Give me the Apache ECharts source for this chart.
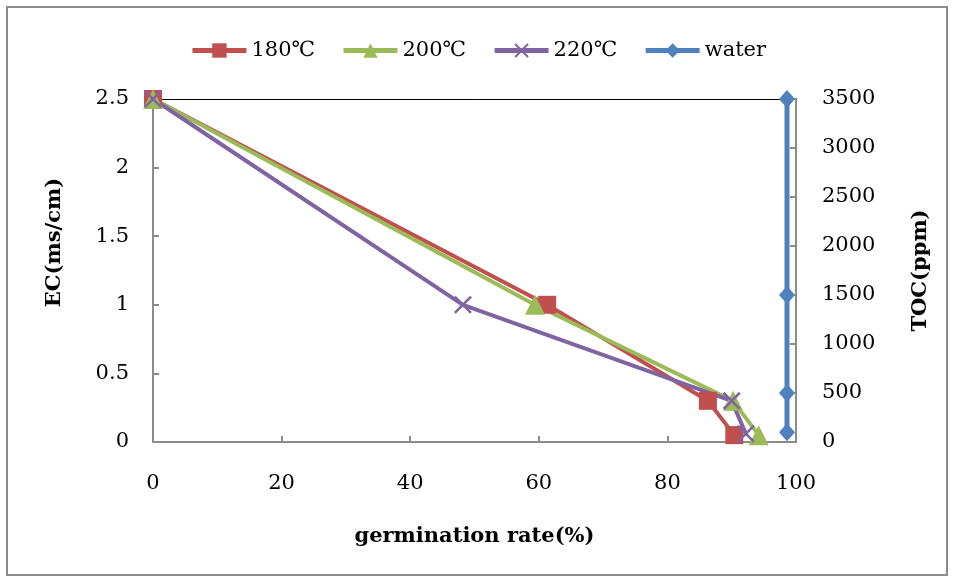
<!DOCTYPE html>
<html>
<head>
<meta charset="utf-8">
<script src="https://cdn.jsdelivr.net/npm/echarts@6/dist/echarts.min.js"></script>
<style>
html, body { margin: 0; padding: 0; background: #fff; }
#frame { position: absolute; left: 6px; top: 6px; width: 942px; height: 570px; border: 2px solid #8c8c8c; box-sizing: border-box; }
#chart { width: 956px; height: 583px; }
</style>
</head>
<body>
<div id="frame"></div>
<div id="chart"></div>
<script>
// germination rate (%) vs EC (ms/cm)
var s180 = [[0, 2.5], [61.3, 1.0], [86.3, 0.3], [90.4, 0.05]];
var s200 = [[0, 2.5], [59.4, 1.0], [90.2, 0.3], [94.2, 0.05]];
var s220 = [[0, 2.5], [48.2, 1.0], [90, 0.3], [92.2, 0.06]];
// water, right axis TOC (ppm)
var waterX = 98.6;
var waterToc = [3500, 1500, 500, 100];

var xTicks = { min: 0, max: 100, interval: 20 };
var ecTicks = { min: 0, max: 2.5, interval: 0.5 };
var tocTicks = { min: 0, max: 3500, interval: 500 };

var font = 'DejaVu Serif';
var axisGrey = '#8c8c8c';

var waterData = waterToc.map(function (v) { return [waterX, v]; });

var crossPath = 'path://M2,0 L10,8 L18,0 L20,2 L12,10 L20,18 L18,20 L10,12 L2,20 L0,18 L8,10 L0,2 Z';

var chart = echarts.init(document.getElementById('chart'));

chart.setOption({
    animation: false,
    textStyle: { fontFamily: font, color: '#000' },
    legend: {
        top: 35,
        left: 'center',
        itemWidth: 54,
        itemHeight: 18,
        itemGap: 26,
        lineStyle: { width: 5 },
        textStyle: { fontFamily: font, fontSize: 21, color: '#000' },
        data: ['180℃', '200℃', '220℃', 'water']
    },
    grid: { left: 153, right: 160, top: 99, bottom: 141 },
    xAxis: [{
        type: 'value',
        min: xTicks.min, max: xTicks.max, interval: xTicks.interval,
        name: 'germination rate(%)',
        nameLocation: 'middle',
        nameGap: 84,
        nameTextStyle: { fontFamily: font, fontSize: 21, fontWeight: 'bold', color: '#000' },
        axisLine: { onZero: false, lineStyle: { color: axisGrey, width: 2 } },
        axisTick: { inside: true, length: 6, lineStyle: { color: axisGrey, width: 2 } },
        axisLabel: { margin: 31, fontSize: 21, color: '#000', fontFamily: font },
        splitLine: { show: false }
    }, {
        // thin black border on top of the plot
        type: 'value',
        position: 'top',
        min: xTicks.min, max: xTicks.max,
        axisLine: { show: true, onZero: false, lineStyle: { color: '#000', width: 1 } },
        axisTick: { show: false },
        axisLabel: { show: false },
        splitLine: { show: false }
    }],
    yAxis: [{
        type: 'value',
        position: 'left',
        min: ecTicks.min, max: ecTicks.max, interval: ecTicks.interval,
        name: 'EC(ms/cm)',
        nameLocation: 'middle',
        nameGap: 88,
        nameTextStyle: { fontFamily: font, fontSize: 21, fontWeight: 'bold', color: '#000', padding: [0, 0, 0, 56] },
        axisLine: { show: true, onZero: false, lineStyle: { color: axisGrey, width: 2 } },
        axisTick: { show: true, inside: true, length: 6, lineStyle: { color: axisGrey, width: 2 } },
        axisLabel: { margin: 24, fontSize: 21, color: '#000', fontFamily: font },
        splitLine: { show: false }
    }, {
        type: 'value',
        position: 'right',
        min: tocTicks.min, max: tocTicks.max, interval: tocTicks.interval,
        name: 'TOC(ppm)',
        nameLocation: 'middle',
        nameGap: 114,
        nameRotate: 90,
        nameTextStyle: { fontFamily: font, fontSize: 21, fontWeight: 'bold', color: '#000' },
        axisLine: { show: true, onZero: false, lineStyle: { color: axisGrey, width: 2 } },
        axisTick: { show: true, inside: true, length: 6, lineStyle: { color: axisGrey, width: 2 } },
        axisLabel: {
            margin: 26, fontSize: 21, color: '#000', fontFamily: font,
            formatter: function (v) { return String(v); }
        },
        splitLine: { show: false }
    }],
    series: [{
        name: '180℃',
        type: 'line',
        data: s180,
        color: '#C0504D',
        symbol: 'rect',
        symbolSize: 18,
        lineStyle: { width: 4 }
    }, {
        name: '200℃',
        type: 'line',
        data: s200,
        color: '#9BBB59',
        symbol: 'triangle',
        symbolSize: 20,
        lineStyle: { width: 4 }
    }, {
        name: '220℃',
        type: 'line',
        data: s220,
        color: '#8064A2',
        symbol: crossPath,
        symbolSize: 18,
        lineStyle: { width: 4 }
    }, {
        name: 'water',
        type: 'line',
        yAxisIndex: 1,
        data: waterData,
        color: '#4F81BD',
        symbol: 'diamond',
        symbolSize: [16, 18],
        lineStyle: { width: 5 }
    }]
});
</script>
</body>
</html>
